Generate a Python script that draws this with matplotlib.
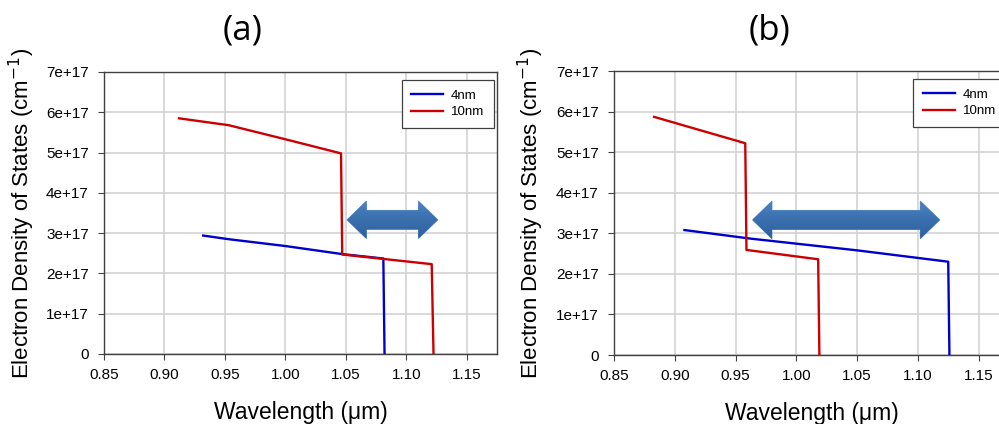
import numpy as np
import matplotlib
matplotlib.use('Agg')
import matplotlib.pyplot as plt
from matplotlib.patches import Polygon

plt.rcParams['font.family'] = ['Liberation Sans', 'DejaVu Sans']

# panel (a)
a_blue_x = [0.932, 0.953, 1.000, 1.047, 1.081, 1.082]
a_blue_y = [2.94e17, 2.85e17, 2.68e17, 2.48e17, 2.37e17, 0]
a_red_x = [0.912, 0.953, 1.000, 1.046, 1.047, 1.081, 1.121, 1.1225]
a_red_y = [5.85e17, 5.68e17, 5.33e17, 4.98e17, 2.47e17, 2.36e17, 2.23e17, 0]

# panel (b)
b_blue_x = [0.908, 0.962, 1.050, 1.125, 1.126]
b_blue_y = [3.08e17, 2.87e17, 2.58e17, 2.30e17, 0]
b_red_x = [0.883, 0.958, 0.959, 1.018, 1.019]
b_red_y = [5.87e17, 5.22e17, 2.59e17, 2.36e17, 0]

x_ticks = [0.85, 0.90, 0.95, 1.00, 1.05, 1.10, 1.15]
x_labels = ['0.85', '0.90', '0.95', '1.00', '1.05', '1.10', '1.15']
y_ticks = [0, 1e17, 2e17, 3e17, 4e17, 5e17, 6e17, 7e17]
y_labels = ['0', '1e+17', '2e+17', '3e+17', '4e+17', '5e+17', '6e+17', '7e+17']

# double arrows (x start, x end, y centre)
a_arrow = (1.051, 1.126, 3.33e17)
b_arrow = (0.964, 1.118, 3.33e17)

fig = plt.figure(figsize=(9.99, 4.24), dpi=100)

grad = np.linspace(0, 1, 64).reshape(-1, 1)
arrow_cmap = matplotlib.colors.LinearSegmentedColormap.from_list(
    'arr', ['#4d83c3', '#3a6fae', '#2d5f9c'])


def double_arrow(ax, x0, x1, yc, hl=0.016, w=0.47e17, hw=0.93e17):
    verts = [(x0, yc), (x0 + hl, yc + hw / 2), (x0 + hl, yc + w / 2),
             (x1 - hl, yc + w / 2), (x1 - hl, yc + hw / 2), (x1, yc),
             (x1 - hl, yc - hw / 2), (x1 - hl, yc - w / 2),
             (x0 + hl, yc - w / 2), (x0 + hl, yc - hw / 2)]
    p = Polygon(verts, closed=True, facecolor='#3a6fae',
                edgecolor='#5b8ccb', linewidth=0.6, zorder=4)
    ax.add_patch(p)
    im = ax.imshow(grad, cmap=arrow_cmap, aspect='auto', origin='upper',
                   extent=[x0, x1, yc - hw / 2, yc + hw / 2],
                   zorder=4.5, interpolation='bilinear')
    im.set_clip_path(p)


def draw_panel(rect, blue, red, arrow, title, title_x, ylabel_x):
    ax = fig.add_axes(rect)
    ax.plot(blue[0], blue[1], color='#0000cc', lw=1.7, label='4nm', zorder=3)
    ax.plot(red[0], red[1], color='#cc0000', lw=1.7, label='10nm', zorder=3)
    double_arrow(ax, *arrow)
    ax.set_xlim(0.85, 1.175)
    ax.set_ylim(0, 7e17)
    ax.set_xticks(x_ticks)
    ax.set_xticklabels(x_labels)
    ax.set_yticks(y_ticks)
    ax.set_yticklabels(y_labels)
    ax.tick_params(labelsize=11, direction='out', length=4, color='#404040')
    ax.tick_params(axis='y', pad=7)
    ax.tick_params(axis='x', pad=6)
    ax.grid(True, color='#d0d0d0', lw=1.1)
    ax.set_axisbelow(True)
    for s in ax.spines.values():
        s.set_color('#404040')
        s.set_linewidth(1.0)
    ax.set_xlabel('Wavelength (\u03bcm)', fontsize=16.5, labelpad=14)
    ax.set_ylabel('Electron Density of States (cm$^{-1}$)', fontsize=16)
    ax.yaxis.set_label_coords(ylabel_x, 0.5)
    leg = ax.legend(loc='upper left', bbox_to_anchor=(0.757, 0.972),
                    borderaxespad=0, fancybox=False, fontsize=9.5,
                    handlelength=2.4, handletextpad=0.6, edgecolor='#404040',
                    framealpha=1, borderpad=0.75, labelspacing=0.3)
    leg.get_frame().set_linewidth(0.9)
    fig.text(title_x, 0.928, title, fontsize=25, ha='center', va='center',
             family=['Open Sans', 'DejaVu Sans'])
    return ax


draw_panel([0.1041, 0.1651, 0.3934, 0.6651], (a_blue_x, a_blue_y),
           (a_red_x, a_red_y), a_arrow, '(a)', 0.243, -0.17)
draw_panel([0.6146, 0.1627, 0.3954, 0.6698], (b_blue_x, b_blue_y),
           (b_red_x, b_red_y), b_arrow, '(b)', 0.770, -0.172)

fig.savefig('out.png', dpi=100)
